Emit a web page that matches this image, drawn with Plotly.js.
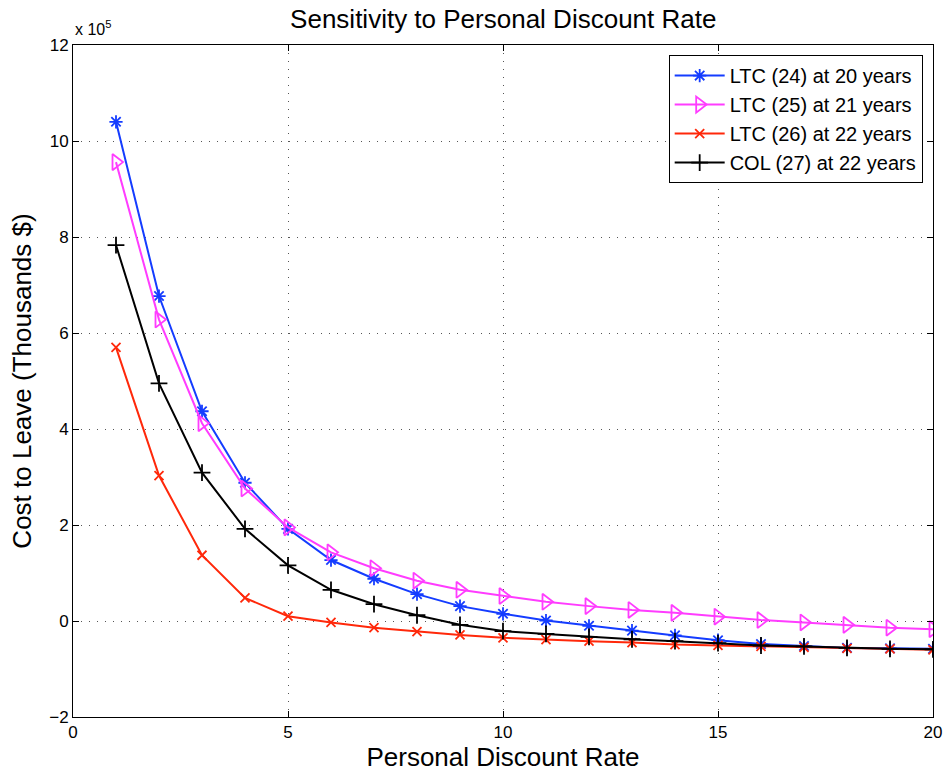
<!DOCTYPE html>
<html>
<head>
<meta charset="utf-8">
<script src="https://cdn.plot.ly/plotly-3.0.1.min.js"></script>
<style>
  html, body { margin: 0; padding: 0; background: #fff; }
  #chart { width: 946px; height: 772px; }
</style>
</head>
<body>
<div id="chart"></div>
<script>
// Personal discount rate (%)
const discountRate = [1,2,3,4,5,6,7,8,9,10,11,12,13,14,15,16,17,18,19,20];

// Cost to leave, in units of 10^5 (thousands $)
const ltc24 = [10.40,6.77,4.37,2.88,1.92,1.27,0.88,0.56,0.31,0.15,0.01,-0.10,-0.20,-0.30,-0.40,-0.48,-0.52,-0.56,-0.57,-0.58];
const ltc25 = [9.56,6.28,4.12,2.76,1.95,1.43,1.10,0.84,0.65,0.52,0.40,0.31,0.23,0.17,0.09,0.02,-0.03,-0.08,-0.14,-0.17];
const ltc26 = [5.70,3.03,1.37,0.48,0.10,-0.03,-0.14,-0.22,-0.29,-0.35,-0.39,-0.42,-0.45,-0.49,-0.51,-0.53,-0.55,-0.57,-0.58,-0.60];
const col27 = [7.83,4.95,3.09,1.92,1.16,0.65,0.35,0.12,-0.08,-0.21,-0.27,-0.33,-0.38,-0.42,-0.46,-0.51,-0.53,-0.56,-0.58,-0.59];

const seriesNames = ['LTC (24) at 20 years','LTC (25) at 21 years','LTC (26) at 22 years','COL (27) at 22 years'];

const FONT = 'Liberation Sans, Arial, Helvetica, sans-serif';

function series(y, name, color, symbol, size) {
  return {
    x: discountRate, y: y, name: name, type: 'scatter', mode: 'lines+markers',
    line: { color: color, width: 2 },
    marker: { symbol: symbol, size: size, color: color, line: { color: color, width: 1.8 } }
  };
}

const traces = [
  series(ltc24, seriesNames[0], 'rgb(20,60,255)', 'asterisk-open', 11),
  series(ltc25, seriesNames[1], 'rgb(255,60,255)', 'triangle-right-open', 14),
  series(ltc26, seriesNames[2], 'rgb(255,40,10)', 'x-thin-open', 9),
  series(col27, seriesNames[3], 'rgb(0,0,0)', 'cross-thin-open', 12)
];

const axisCommon = {
  showline: true, linecolor: '#000', linewidth: 1, mirror: 'ticks',
  ticks: 'inside', ticklen: 6, tickcolor: '#000', tickwidth: 1,
  showgrid: true, gridcolor: '#555', griddash: '1px,7px', gridwidth: 1,
  zeroline: false,
  tickfont: { family: FONT, size: 17, color: '#000' }
};

const layout = {
  width: 946, height: 772,
  margin: { l: 73, r: 13, t: 45, b: 55 },
  paper_bgcolor: '#fff', plot_bgcolor: '#fff',
  font: { family: FONT, color: '#000' },
  title: {
    text: 'Sensitivity to Personal Discount Rate',
    font: { family: FONT, size: 26, color: '#000' },
    x: 0.532, xanchor: 'center', y: 0.976, yanchor: 'middle'
  },
  xaxis: Object.assign({}, axisCommon, {
    range: [0, 20], tickvals: [0,5,10,15,20],
    title: { text: 'Personal Discount Rate', font: { family: FONT, size: 26, color: '#000' }, standoff: 2 }
  }),
  yaxis: Object.assign({}, axisCommon, {
    range: [-2, 12], tickvals: [-2,0,2,4,6,8,10,12],
    ticktext: ['\u22122','0','2','4','6','8','10','12'],
    title: { text: 'Cost to Leave (Thousands $)', font: { family: FONT, size: 26, color: '#000' }, standoff: 10 }
  }),
  legend: {
    x: 0.988, xanchor: 'right', y: 0.985, yanchor: 'top',
    bgcolor: '#fff', bordercolor: '#000', borderwidth: 1,
    font: { family: FONT, size: 20, color: '#000' },
    itemwidth: 50, tracegroupgap: 0
  },
  annotations: [{
    text: 'x 10<sup>5</sup>', xref: 'paper', yref: 'paper',
    x: 0, y: 1.008, xanchor: 'left', yanchor: 'bottom', showarrow: false,
    font: { family: FONT, size: 16, color: '#000' }
  }]
};

Plotly.newPlot('chart', traces, layout, { staticPlot: true });
</script>
</body>
</html>
